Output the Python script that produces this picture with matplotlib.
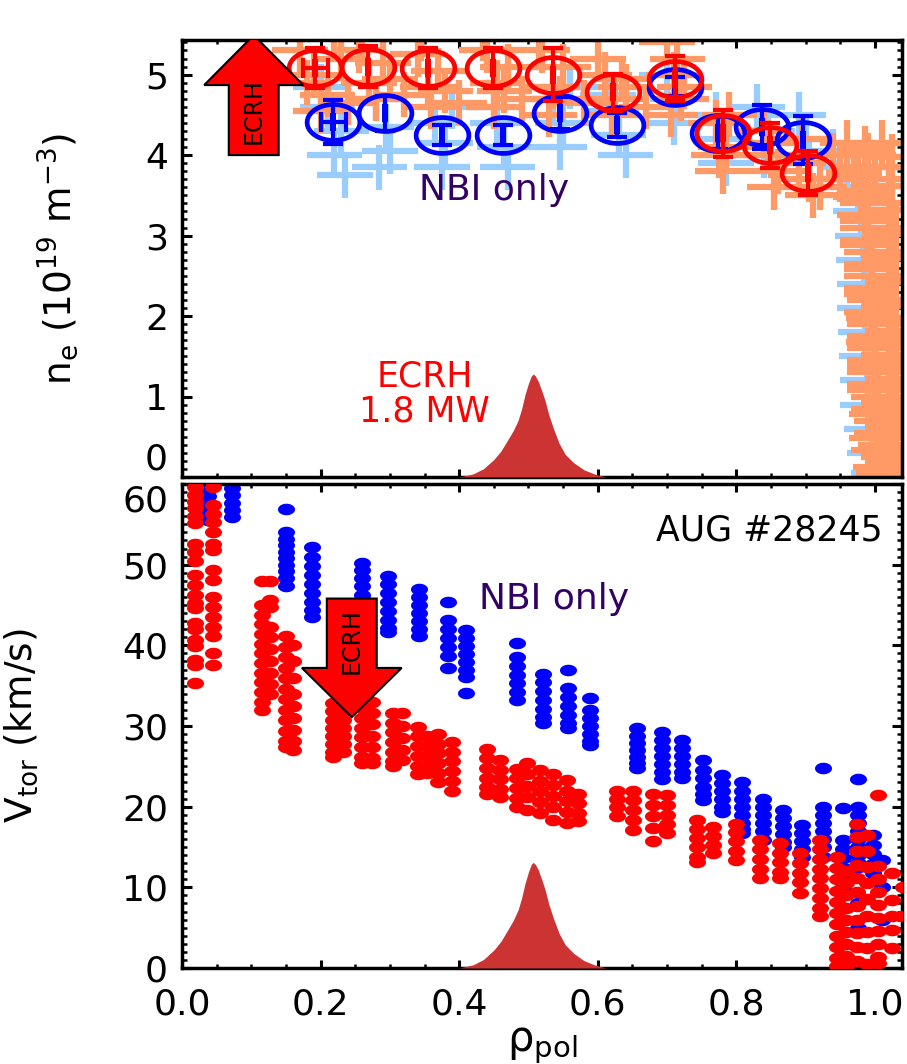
import numpy as np
import matplotlib
matplotlib.use("Agg")
import matplotlib.pyplot as plt
from matplotlib.path import Path
from matplotlib.patches import FancyArrow
from matplotlib.ticker import MultipleLocator, FormatStrFormatter

plt.rcParams["font.family"] = ["DejaVu Sans"]
plt.rcParams["mathtext.default"] = "regular"

# ---- density profile (top panel) ----
ne_ecrh_rho = [0.192, 0.268, 0.355, 0.449, 0.535, 0.622, 0.711, 0.781, 0.849, 0.903]
ne_ecrh = [5.08, 5.10, 5.08, 5.08, 5.00, 4.78, 4.95, 4.27, 4.12, 3.78]
ne_ecrh_err = [0.25, 0.25, 0.25, 0.25, 0.33, 0.23, 0.28, 0.29, 0.28, 0.27]
ne_ecrh_rerr = [0.018, 0, 0, 0, 0, 0, 0, 0, 0, 0]

ne_nbi_rho = [0.218, 0.293, 0.375, 0.463, 0.545, 0.628, 0.711, 0.773, 0.837, 0.896]
ne_nbi = [4.41, 4.52, 4.25, 4.25, 4.52, 4.37, 4.85, 4.27, 4.35, 4.19]
ne_nbi_err = [0.27, 0.22, 0.12, 0.12, 0.20, 0.15, 0.12, 0.20, 0.27, 0.30]
ne_nbi_rerr = [0.018, 0, 0, 0, 0, 0, 0, 0, 0, 0]

# raw (unbinned) density points, ECRH phase: core region
raw_ecrh_rho = [0.17, 0.19, 0.21, 0.23, 0.20, 0.18, 0.22, 0.24,
                0.255, 0.27, 0.29, 0.28, 0.26, 0.30, 0.32,
                0.34, 0.355, 0.37, 0.36, 0.345, 0.38, 0.40,
                0.44, 0.455, 0.47, 0.45, 0.435, 0.465, 0.49,
                0.52, 0.535, 0.55, 0.53, 0.515, 0.545, 0.58,
                0.61, 0.625, 0.635, 0.62, 0.60, 0.64, 0.67,
                0.70, 0.71, 0.72, 0.715, 0.705, 0.725,
                0.77, 0.785, 0.78, 0.79, 0.775,
                0.84, 0.85, 0.86, 0.855, 0.845,
                0.89, 0.905, 0.91, 0.895, 0.92]
raw_ecrh_ne = [5.3, 5.0, 4.75, 5.2, 4.55, 4.9, 5.45, 4.65,
               5.3, 4.9, 5.15, 4.7, 5.45, 4.95, 4.75,
               5.25, 4.85, 5.05, 4.6, 5.45, 4.8, 4.65,
               5.3, 4.9, 5.1, 4.6, 5.45, 4.8, 4.7,
               5.3, 4.85, 5.1, 4.5, 5.45, 4.7, 4.65,
               5.0, 4.7, 4.95, 4.5, 5.2, 4.85, 4.6,
               5.4, 5.0, 4.7, 5.2, 4.5, 4.85,
               4.4, 4.1, 3.8, 4.5, 4.0,
               4.3, 4.0, 3.8, 3.6, 4.15,
               3.9, 3.7, 3.5, 4.2, 3.6]

# raw density points, ECRH phase: edge pedestal
edge_ecrh_rho = [0.96, 1.01, 0.94, 0.99, 0.975, 1.02, 0.95, 1.0, 0.985, 0.99,
                 1.025, 0.985, 0.99, 1.03, 0.99, 0.995, 1.03, 0.995, 0.995,
                 1.03, 0.995, 1.0, 1.03, 0.995, 1.0, 1.03, 1.0, 1.0, 1.03,
                 1.0, 1.0, 1.03, 1.0, 1.005, 1.005, 1.03, 1.01, 1.01, 1.03,
                 1.015, 1.02,
                 0.985, 1.025, 0.97, 1.02, 0.98, 1.02, 0.99, 1.025, 0.99,
                 1.02, 0.995, 1.025, 0.995, 1.02, 0.998, 1.025, 0.998, 1.02,
                 1.0, 1.025, 1.0, 1.02, 1.002, 1.025, 1.003, 1.02, 1.006,
                 1.025, 1.008, 1.03, 1.012, 1.03, 1.018, 1.03]
edge_ecrh_ne = [4.15, 4.15, 4.0, 4.0, 3.85, 3.85, 3.7, 3.7, 3.55, 3.4,
                3.4, 3.25, 3.1, 3.1, 2.95, 2.8, 2.8, 2.65, 2.5,
                2.5, 2.35, 2.2, 2.2, 2.05, 1.9, 1.9, 1.75, 1.6, 1.6,
                1.45, 1.3, 1.3, 1.15, 1.0, 0.85, 1.0, 0.7, 0.55, 0.55,
                0.4, 0.25,
                4.08, 3.98, 3.78, 3.62, 3.48, 3.32, 3.18, 3.02, 2.88,
                2.72, 2.58, 2.42, 2.28, 2.12, 1.98, 1.82, 1.68, 1.52,
                1.38, 1.22, 1.08, 0.92, 0.78, 0.62, 0.48, 0.32, 0.33,
                0.18, 0.12, 0.12, 0.05, 0.75, 0.02, 1.45]

# raw (unbinned) density points, NBI-only phase
raw_nbi_rho = [0.21, 0.23, 0.22, 0.235, 0.20, 0.28, 0.295, 0.30, 0.285,
               0.365, 0.38, 0.375, 0.39, 0.455, 0.465, 0.47, 0.45,
               0.535, 0.55, 0.545, 0.56, 0.62, 0.63, 0.64, 0.615,
               0.70, 0.715, 0.71, 0.77, 0.78, 0.785, 0.83, 0.845, 0.84,
               0.89, 0.90, 0.905, 0.94, 0.96, 0.975, 0.98, 0.982, 0.984,
               0.985, 0.985, 0.986, 0.988, 0.99, 0.99, 0.995, 1.0, 1.005]
raw_nbi_ne = [4.6, 4.3, 4.0, 3.75, 4.85, 4.7, 4.35, 4.05, 3.85,
              4.4, 4.15, 3.85, 4.6, 4.4, 4.1, 3.85, 4.6,
              4.7, 4.4, 4.1, 4.85, 4.55, 4.25, 4.0, 4.75,
              5.0, 4.7, 4.4, 4.5, 4.2, 3.9, 4.6, 4.3, 4.0,
              4.5, 4.2, 3.9, 4.05, 3.85, 3.6, 3.3, 3.0, 2.7,
              2.4, 2.1, 1.8, 1.5, 1.2, 0.9, 0.6, 0.3, 0.05]

# ---- toroidal rotation (bottom panel), columns of points ----
vt_nbi_rho = [0.038, 0.072, 0.150, 0.188, 0.260, 0.297, 0.342, 0.384, 0.410,
              0.483, 0.521, 0.557, 0.589, 0.656, 0.692, 0.722, 0.752, 0.779,
              0.808, 0.838, 0.867, 0.894, 0.925, 0.954, 0.975, 0.997, 1.010]
vt_nbi_cols = [
    [59.5, 58.5, 57.5, 56.5, 55.5],
    [59.5, 58.6, 57.7, 56.8, 55.9],
    [56.9, 54.0, 53.2, 52.4, 51.6, 50.8, 50.0, 49.2, 48.4, 47.3],
    [52.2, 50.9, 49.8, 48.7, 47.6, 46.5, 45.4, 44.4, 43.5],
    [50.2, 49.3, 48.3, 47.3, 46.3, 45.3, 44.3],
    [48.6, 47.6, 46.5, 45.4, 44.3, 43.2, 42.2, 41.6],
    [47.0, 46.0, 45.0, 44.0, 43.0, 42.0, 41.2],
    [45.4, 43.1, 42.0, 40.9, 39.8, 38.7, 37.2],
    [41.9, 40.9, 39.9, 38.9, 37.9, 36.9, 36.1, 34.1],
    [40.3, 38.5, 37.4, 36.3, 35.3, 34.2, 33.2],
    [36.5, 35.4, 34.3, 33.2, 32.1, 31.1, 30.4],
    [36.9, 34.7, 33.6, 32.5, 31.4, 30.4, 29.7],
    [33.5, 32.0, 31.0, 30.0, 29.0, 28.2, 27.6],
    [29.7, 28.8, 27.9, 27.0, 26.1, 25.4, 24.8],
    [29.3, 28.3, 27.3, 26.3, 25.3, 24.3, 23.4],
    [28.3, 27.3, 26.3, 25.3, 24.3, 23.5],
    [25.8, 24.5, 23.5, 22.5, 21.6, 20.8],
    [23.9, 22.9, 21.9, 20.9, 20.0, 19.3],
    [23.0, 22.0, 21.0, 20.0, 19.0, 18.0, 17.2, 16.7],
    [21.0, 20.0, 19.0, 18.0, 17.0, 15.9],
    [19.6, 18.6, 17.6, 16.6, 15.6, 15.0],
    [17.7, 16.7, 15.7, 14.7, 13.8],
    [24.8, 20.0, 19.0, 18.0, 17.0, 16.0, 15.0, 13.8],
    [19.8, 15.9, 14.8, 13.6, 12.4, 11.2, 10.0],
    [23.4, 20.0, 19.0, 18.0, 17.0, 16.0, 15.0, 14.0, 13.0, 12.5, 8.0, 5.0],
    [16.5, 15.3, 14.1, 12.9, 11.8],
    [13.4, 10.0, 6.0],
]

vt_ecrh_rho = [0.019, 0.045, 0.115, 0.127, 0.150, 0.160, 0.218, 0.232, 0.260,
               0.274, 0.305, 0.318, 0.340, 0.354, 0.370, 0.390, 0.440, 0.459,
               0.483, 0.498, 0.517, 0.536, 0.555, 0.572, 0.628, 0.651, 0.680,
               0.700, 0.743, 0.766, 0.800, 0.834, 0.863, 0.892, 0.920, 0.945,
               0.958, 0.974, 0.988, 1.005, 1.025, 1.040]
vt_ecrh_cols = [
    [59.6, 58.6, 57.8, 57.0, 56.0, 55.2, 52.6, 51.6, 50.5, 48.7, 47.5,
     46.2, 45.2, 44.6, 42.8, 42.0, 40.6, 39.9, 38.2, 37.6, 35.3],
    [59.6, 57.4, 56.3, 55.3, 54.1, 52.6, 51.8, 49.3, 48.1, 46.0, 44.8,
     43.5, 42.3, 41.2, 39.0, 37.6],
    [48.0, 45.0, 43.8, 42.6, 41.4, 40.2, 39.0, 37.8, 36.6, 35.4, 34.2, 33.0, 32.0],
    [48.0, 45.6, 44.8, 42.3, 41.0, 39.5, 38.0, 36.6, 35.2, 34.0],
    [41.1, 39.8, 38.5, 37.2, 35.9, 34.6, 33.3, 32.0, 30.7, 29.4, 28.2, 27.4],
    [40.0, 38.0, 36.0, 34.0, 32.5, 31.0, 29.5, 28.2, 27.0],
    [32.8, 31.8, 30.8, 29.8, 28.8, 27.8, 26.8, 26.2],
    [31.8, 30.8, 29.8, 28.8, 27.8, 26.8],
    [33.4, 32.2, 31.0, 29.8, 28.6, 27.4, 26.2, 25.4],
    [33.0, 31.6, 30.2, 28.8, 27.4, 26.0, 25.4],
    [31.6, 30.4, 29.2, 28.0, 26.8, 25.6, 25.0],
    [31.6, 30.0, 28.5, 27.0, 25.8],
    [29.9, 28.7, 27.5, 26.3, 25.1, 24.1],
    [28.7, 27.5, 26.3, 25.1, 24.2],
    [29.0, 27.8, 26.6, 25.4, 24.2, 23.0],
    [28.0, 26.8, 25.6, 24.4, 23.2, 22.0],
    [27.2, 26.0, 24.8, 23.6, 22.4, 21.6],
    [25.8, 24.6, 23.4, 22.2, 21.2],
    [24.7, 23.5, 22.3, 21.1, 20.0],
    [25.4, 24.0, 22.6, 21.2, 19.6],
    [24.5, 23.2, 21.9, 20.6, 19.2],
    [24.1, 22.7, 21.3, 19.9, 18.4],
    [23.3, 22.0, 20.7, 19.4, 18.0],
    [21.6, 20.4, 19.2, 18.2],
    [22.0, 21.0, 20.0, 18.8],
    [22.0, 20.8, 19.6, 18.4, 17.1],
    [21.6, 20.2, 18.8, 17.4, 15.7],
    [21.4, 20.2, 19.0, 17.8, 16.7],
    [18.3, 17.2, 16.1, 15.0, 13.8, 13.1],
    [17.5, 16.4, 15.3, 14.2],
    [17.9, 16.8, 15.7, 14.5, 13.4],
    [15.9, 14.7, 13.5, 12.3, 11.1],
    [15.5, 14.3, 13.1, 11.9, 11.1],
    [14.2, 13.0, 11.8, 10.6, 9.3],
    [15.9, 14.7, 13.5, 12.3, 11.1, 9.9, 8.7, 7.5, 6.4],
    [13.8, 12.4, 11.0, 9.6, 8.2, 6.8, 5.4, 4.0, 2.6, 1.2, 0.2],
    [12.0, 10.5, 9.0, 7.5, 6.0, 4.5, 3.0, 1.5, 0.3],
    [17.9, 16.2, 14.5, 12.8, 11.1, 9.4, 7.7, 6.0, 4.3, 2.6, 0.9],
    [16.5, 14.5, 12.5, 10.5, 8.5, 6.5, 4.5, 2.5, 0.5],
    [21.5, 12.6, 11.0, 9.4, 7.8, 6.2, 4.6, 3.0, 1.4, 0.6],
    [11.8, 8.4, 6.5, 4.7, 2.5],
    [10.0, 6.5],
]

# ECRH deposition profile (normalised)
dep_rho = [0.400, 0.420, 0.435, 0.450, 0.460, 0.470, 0.478, 0.485, 0.490,
           0.495, 0.500, 0.504, 0.507, 0.510, 0.514, 0.519, 0.524, 0.529,
           0.536, 0.544, 0.553, 0.565, 0.580, 0.595, 0.612]
dep_pow = [0.00, 0.03, 0.08, 0.17, 0.25, 0.36, 0.45, 0.55, 0.66,
           0.80, 0.91, 0.98, 1.00, 0.98, 0.93, 0.84, 0.74, 0.61,
           0.47, 0.33, 0.22, 0.14, 0.07, 0.03, 0.00]

C_RED = "#FF0000"
C_BLUE = "#0000FF"
C_ORANGE = "#FF9966"
C_LBLUE = "#99CCFF"
C_DEP = "#CC3333"
C_PURPLE = "#330066"


def ellipse_path(ratio):
    t = np.linspace(0, 2 * np.pi, 60)
    return Path(np.column_stack([np.cos(t), ratio * np.sin(t)]), closed=True)


oval = ellipse_path(0.68)
bar_mark = Path([(-0.35, -1), (0.35, -1), (0.35, 1), (-0.35, 1), (-0.35, -1)], closed=True)

fig = plt.figure(figsize=(9.07, 10.64), dpi=100)
W, H = 907, 1064
ax1 = fig.add_axes([182 / W, 1 - 477 / H, 720 / W, 437 / H])
ax2 = fig.add_axes([182 / W, 1 - 968 / H, 720 / W, 484 / H])

# ---------------- top panel ----------------
ax1.errorbar(raw_nbi_rho, raw_nbi_ne, xerr=0.04, yerr=0.28, fmt="none",
             ecolor=C_LBLUE, elinewidth=4.5, capsize=0, zorder=1)
ax1.errorbar(raw_ecrh_rho + edge_ecrh_rho, raw_ecrh_ne + edge_ecrh_ne,
             xerr=0.04, yerr=0.28, fmt="none",
             ecolor=C_ORANGE, elinewidth=4.5, capsize=0, zorder=2)
ax1.fill_between(dep_rho, 0, np.array(dep_pow) * 1.28, color=C_DEP, lw=0, zorder=3)

for rho, ne, err, rerr, col, z in [
    (ne_nbi_rho, ne_nbi, ne_nbi_err, ne_nbi_rerr, C_BLUE, 4),
    (ne_ecrh_rho, ne_ecrh, ne_ecrh_err, ne_ecrh_rerr, C_RED, 5),
]:
    ax1.errorbar(rho, ne, yerr=err, xerr=rerr, fmt="none", ecolor=col,
                 elinewidth=3, capsize=7, capthick=3, zorder=z)
    ax1.plot(rho, ne, ls="none", marker=oval, ms=38, mfc="none", mec=col,
             mew=3.4, zorder=z)
    ax1.plot(rho, ne, ls="none", marker=bar_mark, ms=13, mfc=col, mec=col,
             mew=0, zorder=z)

ax1.add_patch(FancyArrow(0.1035, 4.0, 0, 1.49, width=0.072, head_width=0.143,
                         head_length=0.62, length_includes_head=True,
                         fc=C_RED, ec="black", lw=1.5, zorder=6))
ax1.text(0.1035, 4.55, "ECRH", rotation=90, ha="center", va="center",
         fontsize=17, color="black", zorder=7)
ax1.text(0.45, 3.57, "NBI only", ha="center", va="center", fontsize=26,
         color=C_PURPLE, zorder=7)
ax1.text(0.35, 1.03, "ECRH\n1.8 MW", ha="center", va="center", fontsize=25,
         color=C_RED, linespacing=1.05, zorder=7)

ax1.set_xlim(0, 1.039)
ax1.set_ylim(0, 5.43)
ax1.set_yticks([0, 1, 2, 3, 4, 5])
ax1.yaxis.set_minor_locator(MultipleLocator(0.1))
ax1.set_ylabel("n$_e$ (10$^{19}$ m$^{-3}$)", fontsize=27)
ax1.yaxis.set_label_coords(-0.142, 0.5)
ax1.tick_params(axis="x", labelbottom=False)

# ---------------- bottom panel ----------------
nbi_x = np.repeat(vt_nbi_rho, [len(c) for c in vt_nbi_cols])
nbi_y = np.concatenate(vt_nbi_cols)
ecrh_x = np.repeat(vt_ecrh_rho, [len(c) for c in vt_ecrh_cols])
ecrh_y = np.concatenate(vt_ecrh_cols)

ax2.scatter(nbi_x, nbi_y, marker=oval, s=150, c=C_BLUE, lw=0, zorder=2)
ax2.scatter(ecrh_x, ecrh_y, marker=oval, s=150, c=C_RED, lw=0, zorder=3)
ax2.fill_between(dep_rho, 0, np.array(dep_pow) * 13.1, color=C_DEP, lw=0, zorder=4)

ax2.add_patch(FancyArrow(0.245, 45.8, 0, -14.7, width=0.072, head_width=0.144,
                         head_length=6.1, length_includes_head=True,
                         fc=C_RED, ec="black", lw=1.5, zorder=6))
ax2.text(0.245, 40.5, "ECRH", rotation=90, ha="center", va="center",
         fontsize=17, color="black", zorder=7)
ax2.text(0.537, 45.7, "NBI only", ha="center", va="center", fontsize=26,
         color=C_PURPLE, zorder=7)
ax2.text(1.011, 54.2, "AUG #28245", ha="right", va="center", fontsize=25,
         color="black", zorder=7)

ax2.set_xlim(0, 1.039)
ax2.set_ylim(0, 60)
ax2.set_yticks([0, 10, 20, 30, 40, 50, 60])
ax2.yaxis.set_minor_locator(MultipleLocator(1))
ax2.set_ylabel("V$_{tor}$ (km/s)", fontsize=27)
ax2.yaxis.set_label_coords(-0.197, 0.5)
ax2.set_xlabel(r"$\rho_{pol}$", fontsize=30)
ax2.xaxis.set_label_coords(0.5, -0.115)

for ax in (ax1, ax2):
    ax.set_xticks([0.0, 0.2, 0.4, 0.6, 0.8, 1.0])
    ax.xaxis.set_major_formatter(FormatStrFormatter("%.1f"))
    ax.xaxis.set_minor_locator(MultipleLocator(0.05))
    ax.tick_params(which="both", direction="in", top=True, right=True)
    ax.tick_params(axis="y", which="major", length=7.2, width=2.2, labelsize=26, pad=10)
    ax.tick_params(axis="y", which="minor", length=3.6, width=1.8)
    ax.tick_params(axis="x", which="major", length=5.8, width=2.2, labelsize=26, pad=14)
    ax.tick_params(axis="x", which="minor", length=2.9, width=1.8)
    for sp in ax.spines.values():
        sp.set_linewidth(2.5)

# keep the touching labels "0" (top) and "60" (bottom) apart
fig.canvas.draw()
ax1.yaxis.get_major_ticks()[0].label1.set_va("bottom")
ax2.yaxis.get_major_ticks()[-1].label1.set_va("top")

fig.savefig("out.png", dpi=100)
